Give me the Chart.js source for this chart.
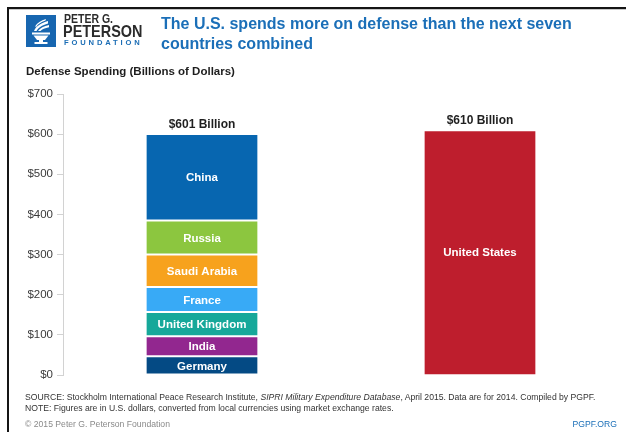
<!DOCTYPE html>
<html>
<head>
<meta charset="utf-8">
<script src="https://cdn.jsdelivr.net/npm/chart.js@4/dist/chart.umd.min.js"></script>
<style>
  html, body { margin: 0; padding: 0; background: #fff; }
  body { width: 626px; height: 432px; position: relative; overflow: hidden;
         font-family: "Liberation Sans", Arial, sans-serif; }
  .frame { position: absolute; left: 7px; top: 7px; width: 640px; height: 440px;
           border-top: 2px solid #151515; border-left: 2px solid #151515; }
  .frame:after { content: ""; position: absolute; left: 0; right: 0; top: 0; height: 1px; background: #c8c8c8; }
  canvas { position: absolute; left: 0; top: 0; }
  .abs { position: absolute; white-space: nowrap; }
  .logo-box { left: 26px; top: 15px; width: 30px; height: 32px; }
  .logo1 { left: 64px; top: 13px; font-size: 12.5px; line-height: 12.5px; font-weight: bold; color: #2b2b2b;
           transform: scaleX(0.84); transform-origin: 0 0; }
  .logo2 { left: 63px; top: 23px; font-size: 17px; line-height: 17px; font-weight: bold; color: #2b2b2b;
           transform: scaleX(0.85); transform-origin: 0 0; }
  .logo3 { left: 64px; top: 39px; font-size: 7.6px; line-height: 8px; font-weight: bold; color: #1b6db5; letter-spacing: 2.85px; }
  .title { left: 161px; top: 13.5px; font-size: 16px; line-height: 20.5px; font-weight: bold; color: #1b6fb8; }
  .subtitle { left: 26px; top: 66px; font-size: 11.5px; line-height: 11.5px; font-weight: bold; color: #1e1e1e; }
  .note { left: 25px; font-size: 8.65px; line-height: 10px; color: #333; }
  .copy { left: 25px; top: 418.5px; font-size: 8.65px; line-height: 10px; color: #8a8a8a; }
  .site { right: 9px; top: 418.5px; font-size: 8.65px; line-height: 10px; color: #1b6fb8; }
</style>
</head>
<body>
<div class="frame"></div>
<canvas id="chart" width="626" height="432"></canvas>

<svg class="abs logo-box" viewBox="0 0 30 32" width="30" height="32">
  <rect x="0" y="0" width="30" height="32" fill="#1766b0"/>
  <path d="M8 16 C10 11 15 8 22 6 L22 8.5 C16 10 12 13 10.5 16 Z" fill="#fff"/>
  <path d="M12 16 C14 13 18 11 23 10 L23 12.3 C19 13 16 14.5 14.5 16 Z" fill="#fff"/>
  <path d="M9 11.5 C11 8 15 5.5 20 4 L19.5 5.6 C15 7.2 12 9.2 10.3 11.8 Z" fill="#fff"/>
  <rect x="6" y="17.5" width="18" height="2" fill="#fff"/>
  <path d="M7.5 20.5 L22.5 20.5 L19 25 L11 25 Z" fill="#fff"/>
  <rect x="13" y="25" width="4" height="2" fill="#fff"/>
  <rect x="8.5" y="27" width="13" height="2" fill="#fff"/>
</svg>
<div class="abs logo1">PETER G.</div>
<div class="abs logo2">PETERSON</div>
<div class="abs logo3">FOUNDATION</div>

<div class="abs title">The U.S. spends more on defense than the next seven<br>countries combined</div>
<div class="abs subtitle">Defense Spending (Billions of Dollars)</div>

<div class="abs note" style="top:392px">SOURCE: Stockholm International Peace Research Institute, <i>SIPRI Military Expenditure Database</i>, April 2015. Data are for 2014. Compiled by PGPF.</div>
<div class="abs note" style="top:402.5px">NOTE: Figures are in U.S. dollars, converted from local currencies using market exchange rates.</div>
<div class="abs copy">© 2015 Peter G. Peterson Foundation</div>
<div class="abs site">PGPF.ORG</div>

<script>
// 2014 military spending, billions of U.S. dollars
const categories = ['Next seven countries', 'United States'];
const countries = ['Germany', 'India', 'United Kingdom', 'France', 'Saudi Arabia', 'Russia', 'China'];
const countrySpending = [46.5, 50.0, 60.5, 62.3, 80.8, 84.5, 216.0];
const countryColors = ['#044a84', '#92278f', '#16a89a', '#38aaf6', '#f7a21d', '#8cc63f', '#0766b0'];
const usLabel = 'United States';
const usSpending = 610;
const usColor = '#be1e2d';
const yTicks = [0, 100, 200, 300, 400, 500, 600, 700];

const datasets = countries.map((name, i) => ({
  label: name,
  data: [countrySpending[i], null],
  backgroundColor: countryColors[i],
  borderColor: '#ffffff',
  borderWidth: { top: 1, bottom: 1, left: 0, right: 0 },
  borderSkipped: false,
  stack: 'total'
}));
datasets.push({
  label: usLabel,
  data: [null, usSpending],
  backgroundColor: usColor,
  borderColor: '#ffffff',
  borderWidth: { top: 1, bottom: 0, left: 0, right: 0 },
  borderSkipped: false,
  stack: 'total'
});

const FONT = '"Liberation Sans", Arial, sans-serif';

// Writes each segment's name inside it and the stack total above each bar
const barText = {
  id: 'barText',
  afterDatasetsDraw(chart) {
    const ctx = chart.ctx;
    const yScale = chart.scales.y;
    ctx.save();
    ctx.textAlign = 'center';
    ctx.textBaseline = 'middle';
    ctx.fillStyle = '#ffffff';
    ctx.font = 'bold 11.5px ' + FONT;
    chart.data.datasets.forEach((ds, di) => {
      const meta = chart.getDatasetMeta(di);
      meta.data.forEach((bar, idx) => {
        if (ds.data[idx] == null) return;
        ctx.fillText(ds.label, bar.x, (bar.y + bar.base) / 2 + 1);
      });
    });
    ctx.fillStyle = '#1f1f1f';
    ctx.font = 'bold 12px ' + FONT;
    ctx.textBaseline = 'alphabetic';
    categories.forEach((c, idx) => {
      let sum = 0;
      let x = null;
      chart.data.datasets.forEach((ds, di) => {
        const v = ds.data[idx];
        if (v != null) {
          sum += v;
          x = chart.getDatasetMeta(di).data[idx].x;
        }
      });
      const top = yScale.getPixelForValue(sum);
      ctx.fillText('$' + Math.round(sum) + ' Billion', x, top - 6);
    });
    ctx.restore();
  }
};

new Chart(document.getElementById('chart'), {
  type: 'bar',
  data: { labels: categories, datasets },
  plugins: [barText],
  options: {
    responsive: false,
    animation: false,
    devicePixelRatio: 1,
    categoryPercentage: 1,
    barPercentage: 0.4,
    layout: { padding: { left: 0, right: 7, top: 94, bottom: 57 } },
    plugins: { legend: { display: false }, tooltip: { enabled: false } },
    scales: {
      x: { stacked: true, display: false },
      y: {
        stacked: true,
        min: yTicks[0],
        max: yTicks[yTicks.length - 1],
        afterFit(scale) { scale.width = 63; },
        afterBuildTicks(scale) { scale.ticks = yTicks.map(v => ({ value: v })); },
        border: { display: true, color: '#d2d2d2', width: 1 },
        grid: { drawOnChartArea: false, drawTicks: true, tickLength: 6, color: '#d2d2d2' },
        ticks: {
          padding: 4,
          color: '#3a3a3a',
          font: { family: FONT, size: 11.5 },
          callback: v => '$' + v
        }
      }
    }
  }
});
</script>
</body>
</html>
